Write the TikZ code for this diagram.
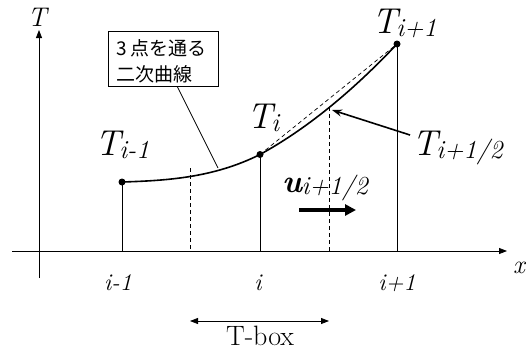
\documentclass[tikz,border=0pt]{standalone}
\usepackage{fontspec}
\newfontfamily\jpfont{Noto Sans CJK JP}
\usetikzlibrary{arrows.meta}
\newcommand\fsz[1]{\fontsize{#1}{#1}\selectfont}
\newcommand\Tlab[1]{{\fsz{36}\itshape T\kern-1pt\raisebox{-3pt}{\fsz{26}#1}}}
\begin{document}
\begin{tikzpicture}[x=1pt,y=-1pt,
  axis/.style={line width=0.8pt,-{Triangle[length=8pt,width=6pt]}},
  vline/.style={line width=0.8pt},
  dline/.style={line width=0.7pt,dash pattern=on 4pt off 3pt},
  dot/.style={circle,fill=black,inner sep=0pt,minimum size=7pt},
  lab/.style={inner sep=0pt,anchor=base west},
  tick/.style={inner sep=0pt,anchor=base,font=\fsz{24}\itshape}]
\useasboundingbox (0,0) rectangle (526,351);
% axes
\coordinate (xs) at (12,251);
\coordinate (xe) at (507,251);
\coordinate (ys) at (39,278);
\coordinate (ye) at (39,30);
\draw[axis] (xs) -- (xe);
\draw[axis] (ys) -- (ye);
\node[inner sep=0pt,anchor=base] (Tax) at (37,26) {\fsz{27}\itshape T};
\node[inner sep=0pt,anchor=base west] (xax) at (513,273) {\fsz{26}\itshape x};
% points
\coordinate (A) at (122,182);
\coordinate (B) at (260,154.5);
\coordinate (C) at (397,44);
\coordinate (A0) at (122,251);
\coordinate (B0) at (260,251);
\coordinate (C0) at (397,251);
\draw[vline] (A) -- (A0);
\draw[vline] (B) -- (B0);
\draw[vline] (C) -- (C0);
% dashed
\coordinate (D1t) at (190,168);
\coordinate (D1b) at (190,251);
\coordinate (D2t) at (329,107);
\coordinate (D2b) at (329,251);
\draw[dline] (D1t) -- (D1b);
\draw[dline] (D2t) -- (D2b);
\draw[dline] (B) -- (C);
% curve
\draw[line width=1.6pt] (A) .. controls (168,180.6) and (214,177.5) .. (B)
   .. controls (305.7,129.4) and (351.3,92.5) .. (C);
\node[dot] (nA) at (A) {};
\node[dot] (nB) at (B) {};
\node[dot] (nC) at (C) {};
% labels
\node[lab] (LA) at (95,155) {\Tlab{i-1}};
\node[lab] (LB) at (247,128) {\Tlab{i}};
\node[lab] (LC) at (372,33) {\Tlab{i+1}};
\node[lab] (LH) at (412,155) {\Tlab{i+1/2}};
\coordinate (Hs) at (410,135);
\coordinate (He) at (332,110);
\draw[line width=1.6pt,-{Stealth[length=10pt,width=7pt]}] (Hs) -- (He);
% u label
\node[lab] (U) at (282,192) {{\fsz{32}\itshape\bfseries u}\kern-0.5pt\raisebox{-2pt}{\fsz{26}\itshape i+1/2}};
\coordinate (Us) at (299,210);
\coordinate (Ue) at (356,210);
\draw[line width=3.2pt,-{Triangle[length=11pt,width=11pt]}] (Us) -- (Ue);
% box
\node[draw,line width=0.8pt,minimum width=110pt,minimum height=55pt,inner sep=0pt,anchor=north west] (box) at (108,31) {};
\node[inner sep=0pt,anchor=base west] (bt1) at (116,55) {\jpfont\fsz{19}3 点を通る};
\node[inner sep=0pt,anchor=base west] (bt2) at (116,81) {\jpfont\fsz{19}二次曲線};
\coordinate (Lp) at (218,168);
\draw[line width=0.8pt] (box.south) ++(14,0) coordinate (Ls) -- (Lp);
% ticks
\node[tick] (t1) at (118,290) {i-1};
\node[tick] (t2) at (258,290) {i};
\node[tick] (t3) at (397,290) {i+1};
% T-box
\coordinate (Bl) at (190,321);
\coordinate (Br) at (329,321);
\draw[line width=0.8pt,{Triangle[length=8pt,width=6pt]}-{Triangle[length=8pt,width=6pt]}] (Bl) -- (Br);
\node[inner sep=0pt,anchor=base] (tb) at (260,345) {\fsz{28}T-box};
\end{tikzpicture}
\end{document}
